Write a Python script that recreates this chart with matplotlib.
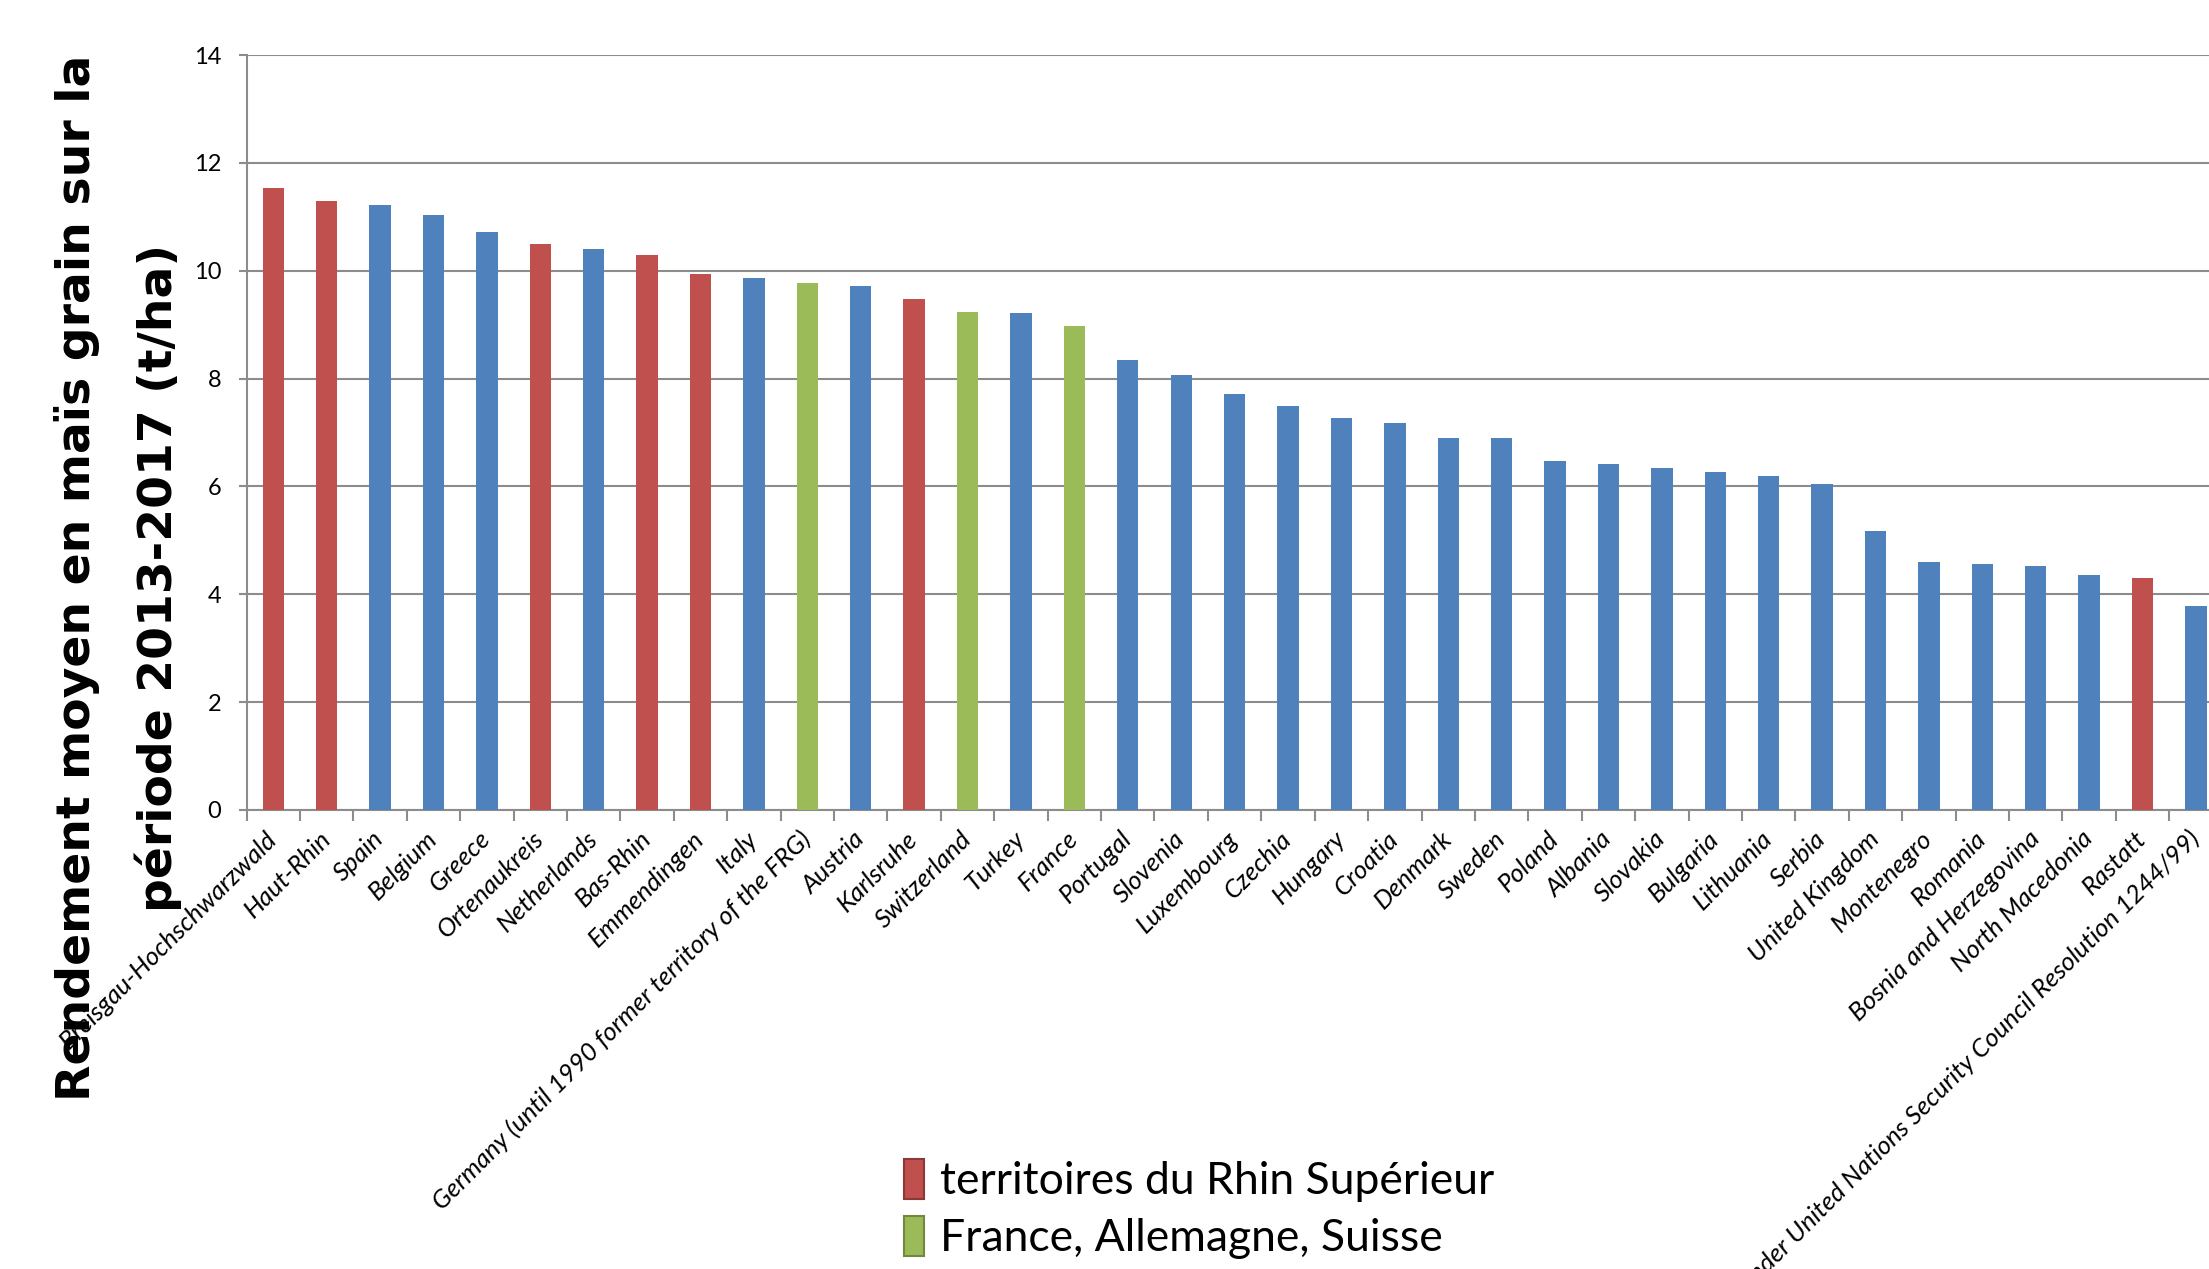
import matplotlib
matplotlib.use("Agg")
import matplotlib.pyplot as plt
from matplotlib.patches import Patch
import numpy as np

# données : rendement moyen maïs grain 2013-2017 (t/ha)
categories = [
    "Breisgau-Hochschwarzwald", "Haut-Rhin", "Spain", "Belgium", "Greece",
    "Ortenaukreis", "Netherlands", "Bas-Rhin", "Emmendingen", "Italy",
    "Germany (until 1990 former territory of the FRG)", "Austria", "Karlsruhe",
    "Switzerland", "Turkey", "France", "Portugal", "Slovenia", "Luxembourg",
    "Czechia", "Hungary", "Croatia", "Denmark", "Sweden", "Poland", "Albania",
    "Slovakia", "Bulgaria", "Lithuania", "Serbia", "United Kingdom",
    "Montenegro", "Romania", "Bosnia and Herzegovina", "North Macedonia",
    "Rastatt", "Kosovo (under United Nations Security Council Resolution 1244/99)",
]
values = [
    11.54, 11.29, 11.21, 11.03, 10.71, 10.50, 10.41, 10.29, 9.93, 9.86,
    9.77, 9.72, 9.47, 9.23, 9.21, 8.97, 8.34, 8.06, 7.71, 7.50,
    7.26, 7.18, 6.90, 6.89, 6.47, 6.41, 6.35, 6.27, 6.19, 6.04,
    5.18, 4.60, 4.57, 4.53, 4.36, 4.30, 3.79,
]
# r = territoires du Rhin Supérieur, g = France/Allemagne/Suisse, b = autres
groups = list("rrbbbrbrrbgbrgbgbbbbbbbbbbbbbbbbbbbrb")

legend_labels = ["territoires du Rhin Supérieur", "France, Allemagne, Suisse"]

colors = {"r": "#C0504D", "g": "#9BBB59", "b": "#4F81BD"}
edges = {"r": "#8C3836", "g": "#71893F"}

W, H = 2209, 1269
fig = plt.figure(figsize=(W / 100, H / 100), dpi=100)
ax = fig.add_axes([246.5 / W, 1 - 810 / H, (2222.7 - 246.5) / W, (810 - 55) / H])

x = np.arange(len(categories))
ax.bar(x, values, width=0.4, color=[colors[g] for g in groups], zorder=3)

ax.set_xlim(-0.5, len(categories) - 0.5)
ax.set_ylim(0, 14)
ax.set_yticks(np.arange(0, 15, 2))
ax.grid(axis="y", color="#8C8C8C", linewidth=1.5, zorder=0)
for s in ["top", "right"]:
    ax.spines[s].set_visible(False)
for s in ["left", "bottom"]:
    ax.spines[s].set_color("#8C8C8C")
    ax.spines[s].set_linewidth(1.5)

ax.set_xticks(x)
ax.set_xticklabels(categories, rotation=45, ha="right", va="center",
                   rotation_mode="anchor", fontstyle="italic",
                   fontfamily="Lato", fontsize=18.5)
ax.tick_params(axis="x", which="major", length=0, pad=18)
ax.set_xticks(np.arange(-0.5, len(categories), 1), minor=True)
ax.tick_params(axis="x", which="minor", length=8, width=1.5, color="#8C8C8C")
ax.tick_params(axis="y", length=6, width=1.5, color="#8C8C8C", pad=12,
               labelsize=17)
for t in ax.get_yticklabels():
    t.set_fontfamily("Lato")

fig.text(118 / W, 1 - 578 / H,
         "Rendement moyen en maïs grain sur la\npériode 2013-2017 (t/ha)",
         rotation=90, ha="center", va="center", multialignment="center",
         fontsize=34, fontweight="bold", fontfamily="DejaVu Sans",
         linespacing=1.9)

handles = [Patch(facecolor=colors["r"], edgecolor=edges["r"], linewidth=1.5),
           Patch(facecolor=colors["g"], edgecolor=edges["g"], linewidth=1.5)]
fig.legend(handles, legend_labels, loc="upper left",
           bbox_to_anchor=(904 / W, 1 - 1159 / H), frameon=False,
           prop={"family": "Lato", "size": 32}, handlelength=0.45,
           handleheight=1.0, handletextpad=0.35, labelspacing=0.32,
           borderpad=0, borderaxespad=0)

fig.savefig("out.png", dpi=100)
